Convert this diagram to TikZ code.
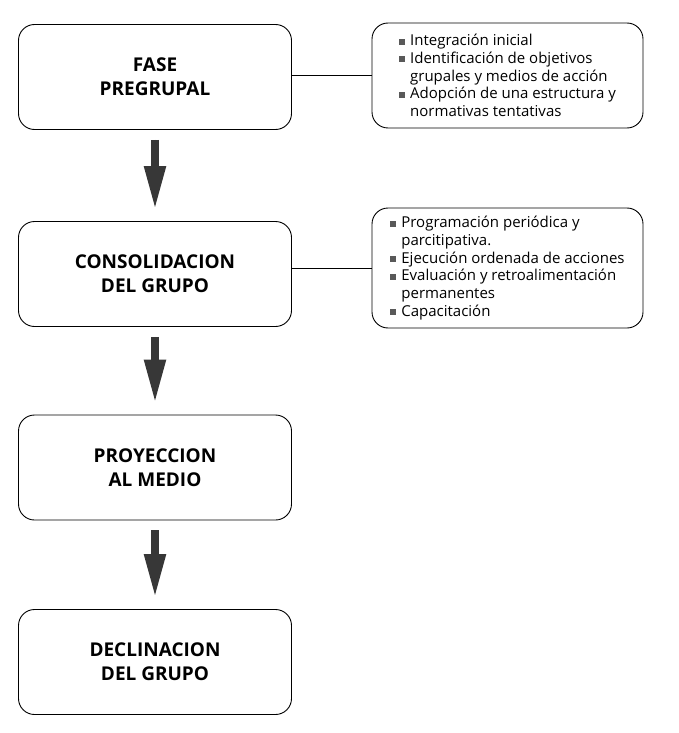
\documentclass[tikz,border=0pt]{standalone}
\usepackage{fontspec}
\setmainfont{Open Sans}
\usepackage{tikz}
\usetikzlibrary{arrows.meta}

\definecolor{flechagris}{RGB}{55,55,55}
\newcommand{\cuadro}{\textcolor{black!65}{\rule[1pt]{6pt}{6pt}}\hspace{5pt}}
\newcommand{\sangria}{\phantom{\cuadro}}

\tikzset{
  fase/.style={draw,line width=0.9pt,rounded corners=16pt,
    minimum width=273pt,minimum height=105pt,align=center,
    font=\bfseries\fontsize{19}{24}\selectfont},
  lista/.style={draw,line width=0.9pt,rounded corners=16pt,
    minimum width=271pt,minimum height=105pt,align=left,
    font=\fontsize{15}{17.7}\selectfont},
  flecha/.style={-{Triangle[width=20pt,length=44pt]},line width=8pt,
    draw=flechagris,fill=flechagris,shorten <=10pt,shorten >=11pt},
  union/.style={line width=0.8pt}
}

\begin{document}
\begin{tikzpicture}[x=1pt,y=-1pt]
	\useasboundingbox (0,0) rectangle (679,733);
	% etapas
	\node[fase] (pregrupal) at (155,77) {FASE\\PREGRUPAL};
	\node[fase] (consolida) at (155,274) {CONSOLIDACION\\DEL GRUPO};
	\node[fase] (proyecta) at (155,467.5) {PROYECCION\\AL MEDIO};
	\node[fase] (declina) at (155,662) {DECLINACION\\DEL GRUPO};
	% flechas
	\draw[flecha] (pregrupal.south) -- (consolida.north);
	\draw[flecha] (consolida.south) -- (proyecta.north);
	\draw[flecha] (proyecta.south) -- (declina.north);
	% listas
	\node[lista] (inicial) at (507.5,75.5) {\cuadro Integración inicial\\
		\cuadro Identificación de objetivos\\
		\sangria grupales y medios de acción\\
		\cuadro Adopción de una estructura y\\
		\sangria normativas tentativas};
	\node[lista,minimum height=120pt] (acciones) at (507.5,268) {\cuadro Programación periódica y\\
		\sangria parcitipativa.\\
		\cuadro Ejecución ordenada de acciones\\
		\cuadro Evaluación y retroalimentación\\
		\sangria permanentes\\
		\cuadro Capacitación};
	\draw[union] (inicial.west -| pregrupal.east) -- (inicial.west);
	\draw[union] (acciones.west -| consolida.east) -- (acciones.west);
\end{tikzpicture}
\end{document}
